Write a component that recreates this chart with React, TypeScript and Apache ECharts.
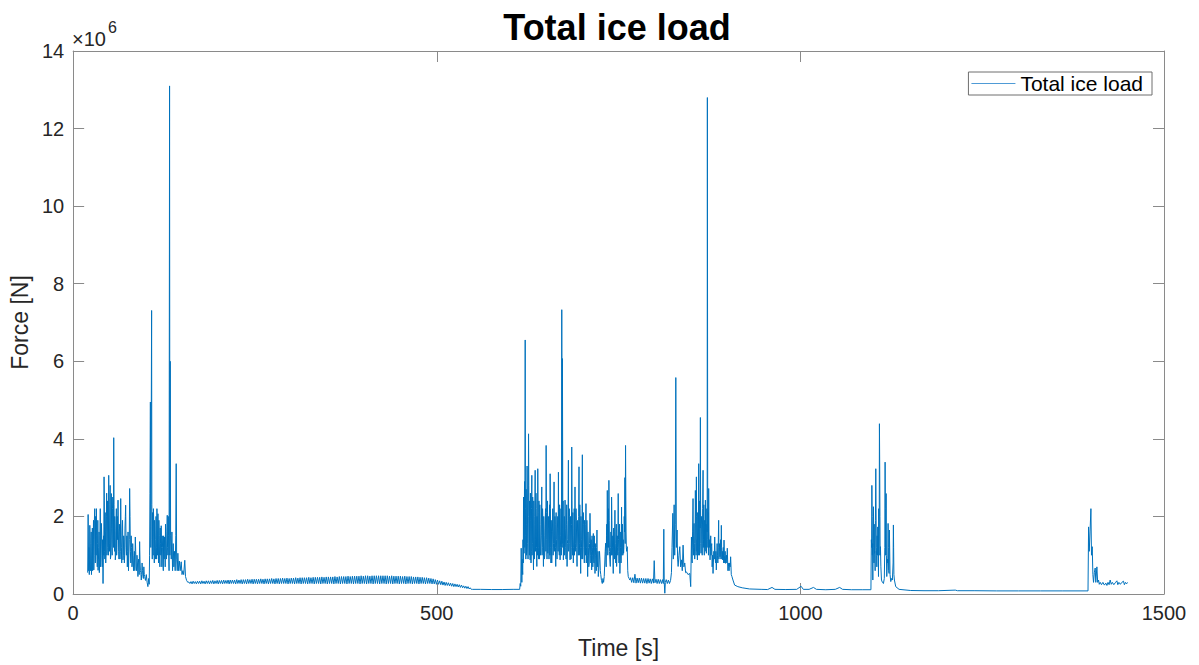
import React, { useEffect, useRef } from "react";
import * as echarts from "echarts";

// Time [s] and total ice load [x10^6 N]
const burst1: [number, number][] = [
  [20.0, 0.55], [20.6, 2.05], [21.3, 0.6], [22.2, 0.5], [22.9, 1.77], [23.6, 0.75], [24.4, 1.3], [25.2, 0.5],
  [26.0, 1.1], [26.8, 0.6], [27.6, 1.4], [28.4, 0.62], [29.2, 1.9], [29.7, 2.2], [30.5, 0.8], [31.2, 1.6],
  [32.0, 2.2], [32.8, 0.9], [33.6, 1.3], [34.3, 0.61], [35.2, 1.2], [36.0, 0.55], [36.9, 1.5], [37.8, 0.7],
  [38.9, 1.82], [39.8, 0.9], [40.5, 1.4], [41.1, 0.27], [41.8, 1.5], [42.5, 3.02], [43.2, 1.1], [44.0, 2.1],
  [44.8, 0.8], [45.7, 1.99], [46.5, 1.0], [47.3, 2.4], [48.1, 1.2], [48.9, 3.06], [49.7, 1.3], [50.5, 2.3],
  [51.3, 0.9], [52.5, 2.59], [53.3, 1.2], [54.1, 2.2], [55.0, 1.4], [55.8, 4.03], [56.5, 1.5], [57.2, 2.0],
  [58.0, 0.88], [58.9, 1.7], [59.8, 1.0], [60.7, 2.0], [61.7, 2.42], [62.6, 1.1], [63.5, 1.8], [64.4, 0.9],
  [65.4, 2.46], [66.3, 1.2], [67.3, 1.6], [68.5, 0.88], [69.5, 1.5], [70.4, 0.8], [71.3, 1.7], [72.2, 2.29],
  [73.3, 1.0], [74.5, 0.7], [75.5, 1.6], [76.6, 1.0], [77.7, 2.72], [78.7, 1.1], [79.8, 1.5], [80.9, 0.7],
  [81.9, 1.3], [83.0, 0.6], [84.2, 1.1], [85.5, 1.47], [86.6, 0.7], [87.8, 1.0], [89.1, 0.45], [90.2, 0.9],
  [91.4, 1.35], [92.5, 0.6], [93.7, 0.36], [94.8, 0.8], [96.0, 0.45], [97.2, 0.7], [98.3, 0.45], [99.5, 0.35],
  [100.6, 0.5], [101.7, 0.3], [102.8, 0.19], [103.8, 0.4], [104.6, 0.25], [105.1, 1.0], [105.6, 2.6], [106.2, 4.95],
  [106.8, 1.2], [107.9, 7.31], [108.5, 1.4], [109.2, 2.1], [110.0, 1.0], [110.8, 1.9], [111.6, 0.8], [112.4, 1.5],
  [113.2, 0.9], [114.0, 2.0], [114.8, 0.9], [115.7, 1.6], [116.6, 2.07], [117.5, 0.8], [118.4, 1.5], [119.3, 0.7],
  [120.2, 1.3], [121.1, 1.76], [122.0, 0.7], [123.0, 1.2], [124.0, 0.6], [124.8, 1.1], [125.7, 1.47], [126.6, 0.7],
  [127.5, 1.4], [128.4, 0.9], [129.4, 2.03], [130.3, 1.0], [131.2, 1.5], [131.9, 0.6], [132.6, 13.1], [133.0, 1.0],
  [133.5, 6.0], [134.0, 1.5], [134.9, 0.9], [135.8, 1.6], [136.7, 0.6], [137.6, 1.3], [138.5, 0.7], [139.4, 1.1],
  [140.3, 0.6], [141.1, 1.5], [141.7, 3.36], [142.3, 0.9], [143.1, 0.6], [144.0, 1.05], [145.0, 0.6], [146.0, 0.85],
  [147.2, 0.6], [148.6, 0.83], [149.7, 0.5], [150.9, 0.6], [152.0, 0.5], [153.5, 0.87], [154.5, 0.45], [156.0, 0.35],
  [157.7, 0.3],
];

// extra readings inside the dense part of the first burst
const burst1Fill: [number, number][] = [
  [21.7, 1.2], [22.6, 0.9], [24.0, 0.6], [24.8, 1.6], [25.6, 0.8], [26.4, 1.7], [27.2, 0.9], [28.0, 1.9],
  [28.8, 1.0], [30.1, 1.4], [30.9, 2.0], [31.6, 1.0], [32.4, 1.5], [33.2, 0.7], [33.9, 1.9], [34.8, 0.9],
  [35.6, 1.6], [36.4, 0.8], [37.3, 2.2], [38.3, 1.0], [39.3, 1.5], [40.1, 0.7], [42.1, 1.0], [42.9, 2.4],
  [43.6, 0.9], [44.4, 1.6], [45.2, 1.0], [46.1, 2.6], [46.9, 1.2], [47.7, 1.9], [48.5, 1.0], [49.3, 2.1],
  [50.1, 1.1], [50.9, 2.8], [51.9, 1.0], [52.9, 1.7], [53.7, 1.0], [54.6, 2.5], [55.4, 1.2], [56.2, 2.3],
  [56.9, 1.1], [57.6, 1.6], [58.4, 1.0], [59.4, 2.2], [60.2, 1.2], [61.2, 1.4], [62.1, 1.7], [63.0, 0.9],
  [64.0, 1.6], [64.9, 1.1], [65.9, 1.5], [66.8, 0.8], [67.9, 1.9], [69.0, 1.0], [70.0, 1.4], [70.9, 1.0],
  [71.8, 2.0], [72.8, 1.2], [73.9, 1.5], [75.0, 1.1], [76.1, 0.6], [77.2, 1.4], [78.2, 2.0], [79.3, 0.8],
  [80.3, 1.2], [81.4, 0.8], [82.4, 1.0], [83.6, 0.9], [84.8, 0.6], [86.0, 1.1], [87.2, 0.6], [88.4, 0.8],
  [89.6, 0.8], [90.8, 0.5], [91.9, 0.9], [93.1, 0.55], [94.2, 0.5], [95.4, 0.6], [96.6, 0.4], [97.8, 0.5],
  [108.2, 2.3], [108.8, 0.9], [109.6, 1.3], [110.4, 2.2], [111.2, 1.2], [112.0, 1.9], [112.8, 1.0], [113.6, 1.4],
  [114.4, 1.2], [115.2, 2.2], [116.1, 1.0], [117.0, 1.4], [117.9, 1.9], [118.8, 1.0], [119.7, 1.7], [120.6, 1.0],
  [121.5, 1.2], [122.5, 1.5], [123.5, 0.8], [124.4, 1.5], [125.2, 0.9], [126.2, 1.2], [127.0, 1.8], [127.9, 1.0],
  [128.9, 1.6], [129.8, 1.2], [130.8, 2.0], [131.5, 1.0],
];

// quiet stretch 159 s .. 547.5 s, one reading every 1.5 s (alternating upper / lower edge of the band)
const calmStart = 159;
const calmStep = 1.5;
const calmValues: number[] = [
  0.31, 0.27, 0.32, 0.26, 0.33, 0.27, 0.32, 0.26, 0.33, 0.27,
  0.33, 0.26, 0.34, 0.27, 0.33, 0.26, 0.34, 0.27, 0.34, 0.26,
  0.34, 0.27, 0.35, 0.26, 0.34, 0.27, 0.35, 0.26, 0.35, 0.27,
  0.35, 0.26, 0.36, 0.27, 0.35, 0.27, 0.36, 0.26, 0.36, 0.27,
  0.36, 0.27, 0.36, 0.26, 0.37, 0.27, 0.36, 0.27, 0.37, 0.26,
  0.37, 0.27, 0.37, 0.26, 0.38, 0.27, 0.37, 0.27, 0.38, 0.26,
  0.38, 0.27, 0.38, 0.26, 0.38, 0.27, 0.39, 0.27, 0.38, 0.26,
  0.39, 0.27, 0.39, 0.26, 0.39, 0.27, 0.4, 0.27, 0.39, 0.26,
  0.4, 0.27, 0.4, 0.26, 0.4, 0.27, 0.41, 0.27, 0.4, 0.27,
  0.41, 0.26, 0.4, 0.27, 0.41, 0.27, 0.41, 0.26, 0.42, 0.27,
  0.41, 0.27, 0.42, 0.26, 0.42, 0.27, 0.42, 0.27, 0.42, 0.26,
  0.43, 0.27, 0.42, 0.27, 0.43, 0.26, 0.43, 0.27, 0.43, 0.27,
  0.43, 0.26, 0.44, 0.27, 0.43, 0.27, 0.44, 0.26, 0.44, 0.27,
  0.44, 0.27, 0.44, 0.26, 0.45, 0.27, 0.44, 0.27, 0.45, 0.26,
  0.45, 0.27, 0.45, 0.27, 0.45, 0.26, 0.46, 0.27, 0.45, 0.27,
  0.46, 0.26, 0.46, 0.27, 0.46, 0.27, 0.46, 0.26, 0.47, 0.27,
  0.46, 0.27, 0.47, 0.26, 0.47, 0.27, 0.46, 0.27, 0.47, 0.26,
  0.47, 0.27, 0.47, 0.27, 0.47, 0.26, 0.47, 0.27, 0.47, 0.27,
  0.47, 0.26, 0.47, 0.27, 0.46, 0.27, 0.47, 0.26, 0.46, 0.27,
  0.46, 0.27, 0.46, 0.26, 0.46, 0.27, 0.45, 0.27, 0.46, 0.26,
  0.45, 0.27, 0.45, 0.27, 0.45, 0.26, 0.44, 0.27, 0.44, 0.27,
  0.44, 0.26, 0.43, 0.27, 0.43, 0.27, 0.42, 0.26, 0.42, 0.27,
  0.41, 0.27, 0.4, 0.26, 0.39, 0.26, 0.37, 0.25, 0.36, 0.25,
  0.34, 0.24, 0.33, 0.23, 0.31, 0.22, 0.3, 0.22, 0.29, 0.21,
  0.28, 0.2, 0.27, 0.19, 0.26, 0.19, 0.25, 0.18, 0.24, 0.17,
  0.23, 0.16, 0.21, 0.15, 0.2, 0.14, 0.19, 0.13, 0.16, 0.12,
];

const lowFlat1: [number, number][] = [
  [549, 0.12], [560, 0.12], [575, 0.115], [590, 0.115], [605, 0.12], [614, 0.12],
];

const burst2: [number, number][] = [
  [614.7, 0.27], [615.5, 0.2], [616.1, 1.18], [617.0, 0.3], [617.9, 0.6], [618.6, 1.4], [619.3, 2.5], [620.0, 1.05],
  [620.7, 2.9], [621.1, 1.2], [621.6, 6.55], [622.2, 1.5], [622.9, 2.7], [623.5, 1.0], [624.2, 3.3], [625.0, 1.3],
  [626.2, 4.13], [627.0, 1.2], [627.7, 2.4], [628.4, 0.88], [629.2, 1.9], [630.0, 1.1], [630.7, 3.06], [631.5, 1.3],
  [632.2, 2.1], [633.0, 0.62], [633.8, 1.8], [634.5, 1.0], [635.3, 3.19], [636.0, 1.4], [636.8, 2.2], [637.6, 0.71],
  [638.3, 1.6], [638.9, 3.23], [639.7, 1.2], [640.5, 2.4], [641.3, 0.9], [642.1, 1.8], [643.0, 1.1], [644.4, 2.76],
  [645.2, 1.2], [645.9, 1.9], [646.7, 0.71], [647.6, 1.5], [648.5, 1.0], [649.5, 2.2], [650.4, 3.83], [651.2, 1.4],
  [652.0, 2.0], [652.7, 1.05], [653.5, 1.7], [654.3, 0.9], [655.1, 2.3], [655.9, 3.1], [656.6, 1.2], [657.4, 1.9],
  [658.1, 0.8], [659.0, 1.6], [660.0, 1.0], [661.3, 2.89], [662.1, 1.3], [662.9, 1.8], [663.6, 0.71], [664.5, 1.4],
  [665.4, 0.9], [666.4, 2.0], [667.3, 3.14], [668.1, 1.2], [668.9, 2.3], [669.6, 0.88], [670.4, 1.5], [671.2, 1.0],
  [671.9, 7.33], [672.3, 1.3], [672.8, 6.07], [673.4, 1.2], [674.1, 0.88], [675.0, 1.6], [675.8, 1.0], [676.4, 2.42],
  [677.3, 1.2], [678.3, 1.8], [679.2, 0.71], [680.1, 1.4], [681.0, 3.45], [681.8, 1.3], [682.6, 2.0], [683.3, 0.88],
  [684.2, 1.7], [685.0, 1.2], [685.6, 3.79], [686.4, 1.4], [687.1, 2.1], [687.8, 0.8], [688.7, 1.5], [689.4, 1.0],
  [690.1, 2.76], [691.0, 1.3], [692.0, 1.9], [692.9, 0.71], [693.8, 1.6], [694.7, 1.0], [695.6, 3.28], [696.4, 1.3],
  [697.1, 1.9], [697.9, 0.53], [698.8, 1.4], [699.5, 0.9], [700.2, 3.59], [701.0, 1.2], [702.0, 1.8], [702.9, 0.8],
  [703.8, 1.5], [704.5, 1.0], [705.2, 2.33], [706.0, 1.2], [706.8, 1.6], [707.5, 0.45], [708.5, 1.2], [709.6, 0.8],
  [710.7, 2.08], [711.6, 1.0], [712.3, 1.4], [713.0, 0.62], [714.0, 1.2], [714.6, 0.7], [715.3, 1.56], [716.2, 0.8],
  [717.0, 1.2], [717.6, 0.53], [718.5, 1.0], [719.4, 0.6], [720.3, 1.65], [721.2, 0.7], [722.1, 0.45], [723.2, 0.8],
  [724.4, 0.88], [725.5, 0.5], [726.5, 0.35], [727.6, 0.27], [728.5, 0.4], [729.4, 0.3], [730.3, 0.45], [731.2, 0.9],
  [732.2, 1.31], [733.0, 0.7], [733.8, 1.8], [734.5, 2.67], [735.2, 1.0], [735.9, 2.2], [736.7, 2.93], [737.5, 1.1],
  [738.6, 0.71], [739.5, 1.6], [740.4, 2.5], [741.2, 1.0], [742.0, 1.5], [742.7, 0.53], [743.6, 1.3], [744.3, 0.9],
  [745.0, 2.16], [745.8, 1.0], [746.5, 1.4], [747.3, 0.71], [748.2, 1.5], [748.9, 1.0], [749.5, 2.59], [750.3, 1.1],
  [751.0, 1.5], [751.8, 0.53], [752.7, 1.2], [753.4, 0.8], [754.1, 2.24], [755.0, 1.3], [755.9, 1.0], [756.9, 1.05],
  [757.8, 2.0], [758.7, 3.0], [759.6, 3.83], [760.3, 1.6], [761.1, 1.1], [761.9, 1.22], [762.6, 0.6], [763.3, 0.45],
  [764.5, 0.4], [765.5, 0.36],
];

// extra readings inside the dense part of the second burst
const burst2Fill: [number, number][] = [
  [617.4, 0.9], [618.2, 0.5], [619.0, 0.8], [619.7, 1.6], [620.3, 1.9], [621.9, 2.2], [622.5, 0.9], [623.2, 1.8],
  [623.9, 1.2], [624.6, 2.4], [625.5, 0.9], [625.8, 2.0], [626.6, 2.8], [627.4, 1.0], [628.0, 1.5], [628.8, 2.6],
  [629.6, 0.8], [630.3, 2.2], [631.1, 1.0], [631.9, 2.5], [632.6, 1.2], [633.4, 2.4], [634.2, 0.9], [634.9, 2.0],
  [635.7, 1.1], [636.4, 2.6], [637.2, 1.2], [637.9, 2.0], [638.6, 1.0], [639.3, 2.1], [640.1, 0.9], [640.9, 1.7],
  [641.7, 2.3], [642.6, 1.0], [643.7, 1.5], [644.8, 1.0], [645.5, 2.2], [646.3, 1.4], [647.1, 2.0], [648.0, 0.9],
  [649.0, 1.7], [650.0, 1.1], [650.8, 2.1], [651.6, 0.9], [652.3, 2.4], [653.1, 1.2], [653.9, 2.0], [654.7, 1.3],
  [655.5, 1.0], [656.3, 2.2], [657.0, 0.8], [657.8, 1.6], [658.6, 1.2], [659.5, 2.2], [660.6, 1.3], [661.7, 1.1],
  [662.5, 2.0], [663.2, 1.2], [664.1, 2.1], [665.0, 1.1], [665.9, 1.7], [666.9, 1.1], [667.7, 1.5], [668.5, 1.0],
  [669.2, 1.9], [670.0, 1.2], [670.8, 2.2], [671.6, 1.2], [673.7, 2.4], [674.5, 1.3], [675.4, 2.0], [676.1, 1.1],
  [676.8, 1.7], [677.8, 0.9], [678.7, 2.3], [679.6, 1.3], [680.5, 1.9], [681.4, 1.1], [682.2, 2.2], [682.9, 1.3],
  [683.8, 2.0], [684.6, 0.9], [685.3, 1.8], [686.0, 2.4], [686.7, 1.0], [687.4, 1.7], [688.2, 1.2], [689.0, 2.2],
  [689.7, 1.3], [690.5, 1.1], [691.5, 2.2], [692.4, 1.2], [693.3, 1.9], [694.2, 1.3], [695.1, 2.0], [696.0, 1.0],
  [696.7, 2.3], [697.5, 1.2], [698.3, 2.0], [699.1, 1.2], [699.8, 2.2], [700.6, 0.9], [701.5, 2.1], [702.4, 1.2],
  [703.3, 1.9], [704.1, 1.2], [704.8, 1.8], [705.6, 0.8], [706.4, 1.9], [707.1, 1.0], [708.0, 1.6], [709.0, 0.7],
  [710.1, 1.3], [711.1, 1.6], [711.9, 0.8], [712.6, 1.1], [713.5, 1.5], [714.3, 1.0], [714.9, 1.3], [715.7, 0.9],
  [716.6, 1.5], [717.3, 0.9], [718.0, 1.3], [718.9, 0.8], [719.8, 1.2], [720.7, 0.9], [721.7, 1.1], [722.7, 0.6],
  [723.8, 1.1], [724.9, 0.6], [731.6, 1.1], [732.6, 0.8], [733.4, 1.5], [734.1, 1.2], [734.9, 1.7], [735.6, 1.4],
  [736.3, 1.2], [737.1, 1.9], [737.9, 0.9], [739.1, 1.2], [740.0, 1.0], [740.8, 1.9], [741.6, 1.2], [742.4, 0.8],
  [743.2, 1.7], [744.0, 1.1], [744.6, 1.6], [745.4, 1.3], [746.1, 0.8], [746.9, 1.8], [747.7, 1.1], [748.5, 1.2],
  [749.2, 1.7], [749.9, 1.4], [750.6, 0.8], [751.4, 1.8], [752.2, 0.9], [753.0, 1.6], [753.8, 1.2], [754.5, 1.0],
  [755.4, 1.8], [756.4, 1.4], [757.3, 1.2], [758.2, 1.6], [759.1, 1.3], [760.0, 2.4], [760.7, 1.2],
];

const gap2: [number, number][] = [
  [766.5, 0.42], [768, 0.3], [769.5, 0.42], [771, 0.29], [772.5, 0.51], [774, 0.28], [775.5, 0.41], [777, 0.29],
  [778.5, 0.41], [780, 0.28], [781.5, 0.41], [783, 0.28], [784.5, 0.4], [786, 0.28], [787.5, 0.4], [789, 0.27],
  [790.5, 0.4], [792, 0.28], [793.5, 0.39], [795, 0.27], [796.5, 0.39], [798, 0.28], [799, 0.86], [800, 0.29],
  [801.5, 0.38], [803, 0.27], [804.5, 0.38], [806, 0.27], [807.5, 0.37], [809, 0.27], [810.5, 0.37], [811.5, 0.27],
  [812.2, 1.67], [812.8, 0.3], [813.6, 0.02], [814.3, 0.3], [815.5, 0.37], [817, 0.27], [818.5, 0.36], [820, 0.27],
  [821.5, 0.35],
];

const burst3: [number, number][] = [
  [822.7, 0.55], [823.5, 1.2], [824.6, 2.08], [825.3, 0.9], [826.4, 2.3], [827.2, 1.0], [828.0, 1.8], [828.7, 5.58],
  [829.5, 1.2], [830.5, 1.65], [831.2, 0.9], [831.9, 0.71], [833.0, 1.0], [834.2, 1.22], [835.3, 0.7], [836.5, 0.88],
  [837.6, 0.6], [838.7, 1.26], [839.8, 0.7], [841.0, 0.8], [842.2, 0.55], [843.3, 0.57], [845.5, 0.5], [847.9, 0.53],
  [849.2, 0.19], [850.2, 1.47], [851.2, 0.8], [852.4, 2.46], [853.1, 1.0], [853.8, 1.82], [854.7, 0.9], [855.6, 2.67],
  [856.3, 1.3], [857.0, 3.02], [857.7, 1.1], [858.4, 0.88], [859.3, 1.8], [860.2, 3.36], [860.9, 1.2], [861.6, 2.4],
  [862.5, 4.55], [863.0, 1.3], [863.4, 1.05], [864.2, 2.0], [865.0, 1.0], [866.2, 3.19], [866.9, 1.4], [867.5, 1.22],
  [868.4, 1.9], [869.4, 2.42], [870.0, 1.1], [870.7, 1.05], [871.4, 2.2], [872.1, 12.8], [872.6, 1.4], [873.3, 2.1],
  [873.9, 2.72], [874.8, 1.2], [875.8, 0.88], [876.7, 1.5], [877.6, 1.22], [878.7, 0.7], [879.9, 0.53], [881.0, 1.1],
  [882.2, 1.47], [883.3, 0.8], [884.4, 0.62], [885.5, 1.3], [886.5, 0.8], [887.6, 1.9], [888.5, 1.1], [889.5, 0.96],
  [890.4, 1.4], [891.3, 1.77], [892.2, 0.9], [893.1, 0.88], [894.0, 1.2], [895.0, 1.39], [896.0, 0.8], [897.2, 0.79],
  [898.3, 1.0], [899.5, 1.18], [900.4, 0.6], [901.3, 0.71], [902.7, 0.8], [904.1, 0.96], [905.0, 0.5], [905.9, 0.45],
  [907.3, 0.36], [909.6, 0.23],
];

// extra readings inside the dense part of the third burst
const burst3Fill: [number, number][] = [
  [850.7, 0.9], [851.8, 1.6], [852.8, 1.2], [853.4, 1.5], [854.2, 1.3], [855.1, 1.1], [856.0, 1.8], [856.6, 1.0],
  [857.3, 2.0], [858.0, 1.4], [858.8, 2.1], [859.7, 1.0], [860.5, 1.9], [861.2, 1.0], [862.1, 1.7], [862.8, 2.3],
  [863.7, 1.8], [864.6, 1.3], [865.6, 2.2], [866.5, 1.2], [867.2, 2.3], [867.9, 1.0], [868.9, 1.2], [869.7, 1.6],
  [870.3, 1.8], [871.1, 1.2], [871.8, 1.6], [872.9, 1.2], [873.6, 1.0], [874.3, 1.6], [875.3, 1.4], [876.2, 1.1],
  [877.1, 1.0], [878.1, 1.3], [879.3, 1.0], [880.4, 0.8], [881.6, 0.9], [882.8, 1.0], [883.8, 1.1], [884.9, 0.9],
  [886.0, 1.0], [887.0, 1.2], [888.0, 0.9], [889.0, 1.3], [889.9, 1.1], [890.8, 0.9], [891.7, 1.2], [892.7, 1.1],
  [893.5, 1.0], [894.5, 0.8], [895.5, 1.0], [896.6, 1.1], [897.7, 0.9], [898.9, 0.8], [899.9, 0.9], [900.8, 0.8],
  [902.0, 0.6], [903.4, 0.7],
];

const calm3: [number, number][] = [
  [914, 0.19], [920, 0.16], [930, 0.13], [946, 0.12], [955, 0.115], [961, 0.17], [965, 0.12], [980, 0.115],
  [995, 0.12], [1001, 0.2], [1004, 0.12], [1012, 0.12], [1018, 0.17], [1022, 0.12], [1035, 0.11], [1048, 0.12],
  [1054, 0.17], [1058, 0.12], [1070, 0.11], [1085, 0.11], [1097, 0.11],
];

const burst4: [number, number][] = [
  [1097.6, 1.4], [1098.3, 2.8], [1099.0, 1.0], [1099.6, 0.36], [1100.5, 2.25], [1101.2, 0.8], [1101.9, 1.05],
  [1102.8, 0.6], [1103.7, 3.23], [1104.4, 1.2], [1105.1, 0.7], [1105.8, 1.1], [1106.4, 1.73], [1107.4, 0.45],
  [1108.0, 1.0], [1108.7, 4.39], [1109.4, 2.0], [1110.1, 1.22], [1111.5, 0.36], [1112.8, 0.3], [1114.2, 0.27],
  [1115.4, 0.4], [1116.5, 3.4], [1117.2, 1.0], [1117.9, 2.59], [1118.8, 0.45], [1119.7, 0.9], [1120.6, 1.82],
  [1121.3, 0.6], [1122.0, 0.53], [1122.4, 1.65], [1123.3, 0.5], [1124.3, 0.32], [1125.4, 0.4], [1126.5, 0.36],
  [1127.9, 1.78], [1128.6, 0.5], [1129.3, 0.36], [1131.1, 0.19], [1135.7, 0.12], [1151.7, 0.09],
];

const burst4Fill: [number, number][] = [
  [1098.0, 1.2], [1098.7, 2.0], [1099.3, 1.3], [1100.0, 1.5], [1100.9, 1.2], [1101.5, 1.8], [1102.3, 1.1],
  [1103.2, 1.9], [1104.0, 2.4], [1104.8, 1.0], [1105.5, 1.5], [1106.1, 1.0], [1106.9, 1.2], [1107.7, 2.2],
  [1108.4, 1.6], [1109.1, 3.2], [1109.7, 1.0], [1110.7, 0.7], [1116.1, 1.2], [1116.8, 2.2], [1117.5, 1.4],
  [1118.3, 1.0], [1120.2, 0.8], [1121.0, 1.2], [1127.5, 0.8], [1128.2, 1.2],
];

const calm4: [number, number][] = [
  [1170, 0.085], [1190, 0.085], [1213, 0.1], [1216, 0.085], [1240, 0.085], [1270, 0.08], [1300, 0.08],
  [1330, 0.08], [1360, 0.08], [1390, 0.08], [1395.5, 0.08],
];

const burst5: [number, number][] = [
  [1396.3, 1.73], [1397.2, 1.1], [1398.3, 1.6], [1399.5, 2.2], [1400.3, 1.0], [1401.3, 1.22], [1402.2, 0.5],
  [1403.1, 0.3], [1404.2, 0.55], [1405.4, 0.67], [1406.2, 0.3], [1407.7, 0.7], [1408.8, 0.3], [1410, 0.36],
  [1411, 0.25], [1412.3, 0.3], [1414, 0.24], [1416, 0.3], [1418, 0.23], [1420, 0.28], [1421.5, 0.22],
  [1423, 0.3], [1424.5, 0.24], [1426, 0.36], [1427.5, 0.25], [1429, 0.3], [1431, 0.24], [1433, 0.29],
  [1435.2, 0.34], [1436.5, 0.24], [1438, 0.3], [1440, 0.25], [1442, 0.3], [1444.3, 0.33], [1445.5, 0.24],
  [1447, 0.3], [1448.5, 0.26], [1449.8, 0.3],
];

const xTicks = { min: 0, max: 1500, interval: 500 };
const yTicks = { min: 0, max: 14, interval: 2 };
const seriesName = "Total ice load";

export default function App() {
  const ref = useRef<HTMLDivElement>(null);
  useEffect(() => {
    if (!ref.current) return;
    const chart = echarts.init(ref.current, undefined, { renderer: "svg" });
    const font = "'Liberation Sans', Arial, Helvetica, sans-serif";
    const axisColor = "#8a8a8a";
    const textColor = "#262626";
    const calm1: [number, number][] = calmValues.map((v, i) => [calmStart + i * calmStep, v]);
    const data = [
      ...burst1, ...burst1Fill, ...calm1, ...lowFlat1, ...burst2, ...burst2Fill, ...gap2,
      ...burst3, ...burst3Fill, ...calm3, ...burst4, ...burst4Fill, ...calm4, ...burst5,
    ].sort((a, b) => a[0] - b[0]);
    const baseAxis = {
      type: "value" as const,
      axisLine: { show: true, onZero: false, lineStyle: { color: axisColor, width: 1 } },
      axisTick: { show: true, inside: true, length: 11, lineStyle: { color: axisColor, width: 1 } },
      splitLine: { show: false },
    };
    chart.setOption({
      animation: false,
      backgroundColor: "#ffffff",
      textStyle: { fontFamily: font },
      title: {
        text: "Total ice load",
        left: 612,
        textAlign: "center",
        top: 4,
        textStyle: { fontFamily: font, fontSize: 36, fontWeight: "bold", color: "#000" },
      },
      grid: { left: 70, right: 35, top: 51, bottom: 71, containLabel: false },
      legend: {
        data: [seriesName],
        right: 47,
        top: 72,
        icon: "rect",
        itemWidth: 44,
        itemHeight: 1.2,
        padding: [1, 9, 1, 3],
        borderColor: "#6f6f6f",
        borderWidth: 1,
        backgroundColor: "#fff",
        itemStyle: { color: "#4f9bd6" },
        textStyle: { fontFamily: font, fontSize: 21, color: "#000" },
      },
      xAxis: [
        {
          ...baseAxis,
          ...xTicks,
          position: "bottom",
          name: "Time [s]",
          nameLocation: "middle",
          nameGap: 42,
          nameTextStyle: { fontFamily: font, fontSize: 23, color: textColor },
          axisLabel: { fontFamily: font, fontSize: 20, color: textColor, margin: 9, formatter: (v: number) => String(v) },
        },
        { ...baseAxis, ...xTicks, position: "top", axisLabel: { show: false } },
      ],
      yAxis: [
        {
          ...baseAxis,
          ...yTicks,
          position: "left",
          name: "Force [N]",
          nameLocation: "middle",
          nameGap: 37,
          nameTextStyle: { fontFamily: font, fontSize: 23, color: textColor },
          axisLabel: { fontFamily: font, fontSize: 20, color: textColor, margin: 9, formatter: (v: number) => String(v) },
        },
        { ...baseAxis, ...yTicks, position: "right", axisLabel: { show: false } },
      ],
      graphic: [
        {
          type: "text",
          left: 72,
          top: 29,
          style: { text: "×10", fontFamily: font, fontSize: 20, fill: textColor },
        },
        {
          type: "text",
          left: 108,
          top: 19,
          style: { text: "6", fontFamily: font, fontSize: 16, fill: textColor },
        },
      ],
      series: [
        {
          name: seriesName,
          type: "line",
          xAxisIndex: 0,
          yAxisIndex: 0,
          data,
          symbol: "none",
          showSymbol: false,
          lineStyle: { color: "#0072BD", width: 1 },
          itemStyle: { color: "#0072BD" },
        },
      ],
    });
    return () => chart.dispose();
  }, []);
  return (
    <div
      ref={ref}
      style={{ position: "fixed", left: 0, top: 0, width: 1199, height: 665, background: "#fff" }}
    />
  );
}
